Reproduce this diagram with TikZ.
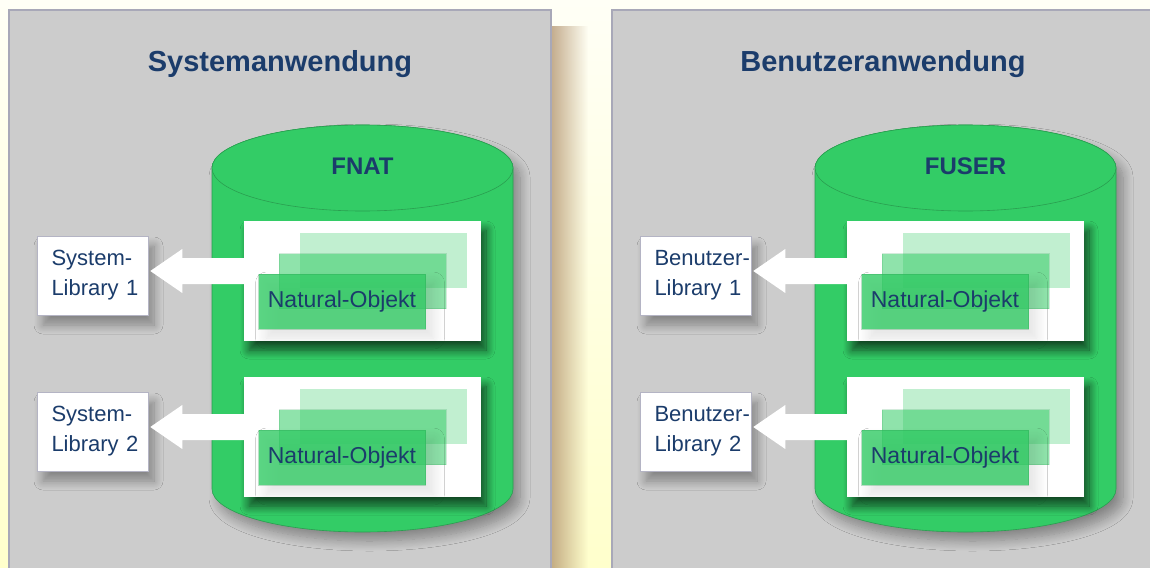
\documentclass[tikz,border=0pt]{standalone}
\usepackage{fontspec}
\setmainfont{Liberation Sans}
\usetikzlibrary{calc,shadows.blur,fadings}
\definecolor{bgtop}{HTML}{FFFFF6}
\definecolor{bgbot}{HTML}{FFFFCC}
\definecolor{panelgray}{HTML}{CCCCCC}
\definecolor{panelline}{HTML}{A8A8B8}
\definecolor{cylgreen}{HTML}{33CC66}
\definecolor{cylline}{HTML}{2A9E50}
\definecolor{navy}{HTML}{1B3C6B}
\definecolor{liblinecol}{HTML}{B4B4C4}
\definecolor{shadowtan}{HTML}{B0906A}

\newcommand\drawside[4]{%
  % panel shadow and panel
  \fill[panelshadow] (551,26) rectangle (588,590);
  \path[panel] (9,10) rectangle (551,590);
  \node[titletext] (#1title) at (280,64) {#2};
  % cylinder
  \path[cylbody] (212,168) -- (212,489)
      arc[start angle=180,end angle=0,x radius=150.5,y radius=43] -- (513,168)
      arc[start angle=0,end angle=-180,x radius=150.5,y radius=43] -- cycle;
  \path[cyltop] (362.5,168) ellipse[x radius=150.5,y radius=43];
  \node[dbtext] (#1db) at (362.5,166) {#3};
  % white boxes
  \node[wbox] (#1w1) at (362.5,281) {};
  \node[wbox] (#1w2) at (362.5,437) {};
  \foreach \k in {1,2}{
    \node[objback] (#1ob\k) at ($(#1w\k.center)+(20.5,-20.5)$) {};
    \node[objmid]  (#1om\k) at (#1w\k.center) {};
    \node[objfront] (#1of\k) at ($(#1w\k.center)+(-20.5,20.5)$) {Natural-Objekt};
  }
  % library boxes
  \node[libbox] (#1l1) at (92.5,275.5) {\mbox{#4-}\\\mbox{Library 1}};
  \node[libbox] (#1l2) at (92.5,431.5) {\mbox{#4-}\\\mbox{Library 2}};
  % arrows
  \foreach \k in {1,2}{
    \coordinate (#1t\k) at ($(#1l\k.east)+(2,-4.5)$);
    \coordinate (#1s\k) at (#1t\k -| #1w\k.west);
    \fill[fatarrow] (#1t\k) -- ++(32,-22) -- ++(0,9) -- ($(#1s\k)+(0,-13)$)
      -- ($(#1s\k)+(0,13)$) -- ($(#1t\k)+(32,13)$) -- ($(#1t\k)+(32,22)$) -- cycle;
  }
}

\begin{document}
\begin{tikzpicture}[x=1pt,y=-1pt,
  panelshadow/.style={fill=shadowtan,fill opacity=0.75,path fading=east},
  panel/.style={fill=panelgray,draw=panelline,line width=1.3pt},
  titletext/.style={text=navy,font=\fontsize{29}{34}\selectfont\bfseries,inner sep=0pt},
  dbtext/.style={text=navy,font=\fontsize{24}{28}\selectfont\bfseries,inner sep=0pt},
  cylbody/.style={fill=cylgreen,draw=cylline,line width=0.6pt,
    blur shadow={shadow xshift=7pt,shadow yshift=-9pt,shadow blur radius=10pt,shadow blur steps=12,shadow opacity=35}},
  cyltop/.style={fill=cylgreen,draw=cylline,line width=0.6pt},
  wbox/.style={fill=white,minimum width=237pt,minimum height=120pt,inner sep=0pt,
    blur shadow={shadow xshift=5pt,shadow yshift=-9pt,shadow blur radius=9pt,shadow blur steps=12,shadow opacity=65}},
  objbase/.style={minimum width=167pt,minimum height=55pt,inner sep=0pt,
    text=navy,font=\fontsize{23}{26}\selectfont},
  objback/.style={objbase,fill=cylgreen,fill opacity=0.3},
  objmid/.style={objbase,fill=cylgreen,fill opacity=0.55,draw=cylline,draw opacity=0.2},
  objfront/.style={objbase,fill=cylgreen,fill opacity=0.8,text opacity=1,draw=cylline,draw opacity=0.3,
    blur shadow={shadow xshift=8pt,shadow yshift=-9pt,shadow blur radius=11pt,shadow blur steps=12,shadow opacity=14}},
  libbox/.style={fill=white,draw=liblinecol,line width=0.6pt,text=navy,
    font=\fontsize{22}{30}\selectfont,align=left,text width=82pt,inner xsep=14.5pt,
    minimum height=79pt,inner ysep=0pt,
    blur shadow={shadow xshift=6pt,shadow yshift=-10pt,shadow blur radius=9pt,shadow blur steps=12,shadow opacity=35}},
  fatarrow/.style={fill=white}
]
\useasboundingbox (0,0) rectangle (1150,567);
\shade[top color=bgtop,bottom color=bgbot] (0,0) rectangle (1150,567);
\drawside{a}{Systemanwendung}{FNAT}{System}
\begin{scope}[xshift=603pt]
\drawside{b}{Benutzeranwendung}{FUSER}{Benutzer}
\end{scope}
\end{tikzpicture}
\end{document}
